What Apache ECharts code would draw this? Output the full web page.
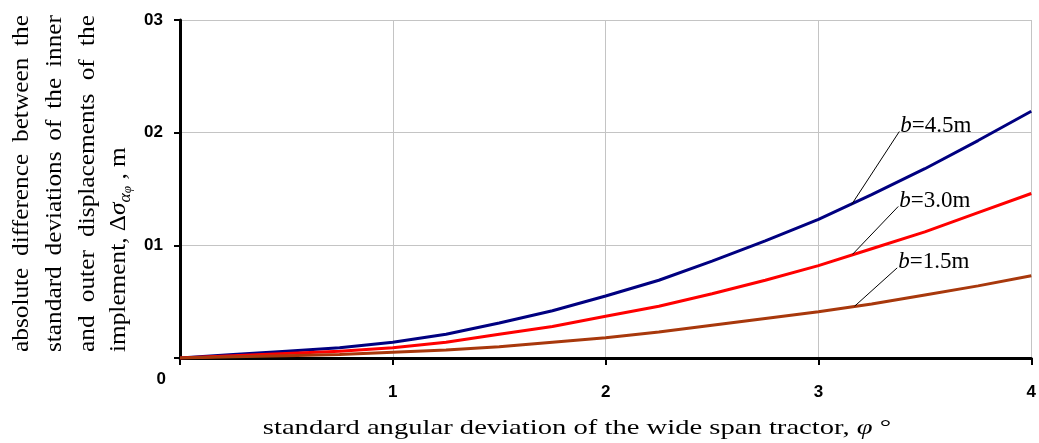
<!DOCTYPE html>
<html>
<head>
<meta charset="utf-8">
<script src="https://cdn.jsdelivr.net/npm/echarts@6/dist/echarts.min.js"></script>
<style>
  html, body { margin: 0; padding: 0; background: #fff; }
  #chart { width: 1039px; height: 443px; }
</style>
</head>
<body>
<div id="chart"></div>
<script>
// angular deviation, degrees
const xValues = [0, 0.25, 0.5, 0.75, 1, 1.25, 1.5, 1.75, 2, 2.25, 2.5, 2.75, 3, 3.25, 3.5, 3.75, 4]
// difference of std deviations, m
const b45 = [0, 0.0003, 0.0006, 0.0009, 0.0014, 0.0021, 0.0031, 0.0042, 0.0055, 0.0069, 0.0086, 0.0104, 0.0123, 0.0145, 0.0168, 0.0193, 0.0219]
const b30 = [0, 0.0002, 0.0004, 0.0006, 0.0009, 0.0014, 0.0021, 0.0028, 0.0037, 0.0046, 0.0057, 0.0069, 0.0082, 0.0097, 0.0112, 0.0129, 0.0146]
const b15 = [0, 0.0001, 0.0002, 0.0003, 0.0005, 0.0007, 0.0010, 0.0014, 0.0018, 0.0023, 0.0029, 0.0035, 0.0041, 0.0048, 0.0056, 0.0064, 0.0073]

const seriesNames = ['b=4.5m', 'b=3.0m', 'b=1.5m']
const seriesColors = ['#000080', '#ff0000', '#a8380c']
const xTickLabels = ['', '1', '2', '3', '4']
const yTickLabels = ['0', '01', '02', '03']

// leader lines for the curve labels (data coords)
const leaderStart = [[3.155, 0.0136], [3.16, 0.0092], [3.17, 0.0046]]
const leaderEnd = [[3.38, 0.0201], [3.375, 0.01345], [3.37, 0.0080]]

const serif = '"Liberation Serif", "Times New Roman", serif'
const sans = '"Liberation Sans", Arial, sans-serif'

const ctx = document.createElement('canvas').getContext('2d')
ctx.font = '23px ' + serif

// text along the y title is a bit wider than the font gives
const yTitleStretch = 1.1

// spread the words of a line over a given length
function justifyLine(line, total) {
  const words = line.split(' ')
  const w = words.reduce((s, t) => s + ctx.measureText(t).width, 0)
  const gap = Math.max(4, (total - w) / (words.length - 1))
  return { text: words.join('{g| }'), gap: gap }
}

const titleLines = [
  'absolute difference between the',
  'standard deviations of the inner',
  'and outer displacements of the'
]
const titleX = [22, 55, 88]

const graphics = titleLines.map((line, i) => {
  const j = justifyLine(line, 337 / yTitleStretch)
  return {
    type: 'text',
    x: titleX[i],
    y: 352,
    rotation: Math.PI / 2,
    scaleX: yTitleStretch,
    style: {
      text: j.text,
      font: '23px ' + serif,
      fill: '#000',
      align: 'left',
      verticalAlign: 'middle',
      textAlign: 'left',
      textVerticalAlign: 'middle',
      rich: { g: { width: j.gap, fontSize: 23, fontFamily: serif } }
    }
  }
})

graphics.push({
  type: 'text',
  x: 119,
  y: 352,
  rotation: Math.PI / 2,
  scaleX: yTitleStretch,
  style: {
    text: '{n|implement, Δ}{s|σ}{a|α}{f|φ}{n| , m}',
    fill: '#000',
    align: 'left',
    verticalAlign: 'middle',
    textAlign: 'left',
    textVerticalAlign: 'middle',
    rich: {
      n: { fontSize: 23, fontFamily: serif, lineHeight: 26 },
      s: { fontSize: 23, fontFamily: serif, fontStyle: 'italic', lineHeight: 26 },
      a: { fontSize: 16, fontFamily: serif, fontStyle: 'italic', verticalAlign: 'bottom', lineHeight: 26 },
      f: { fontSize: 12, fontFamily: serif, fontStyle: 'italic', verticalAlign: 'bottom', lineHeight: 30 }
    }
  }
})

const xTitle = 'standard angular deviation of the wide span tractor, φ °'
ctx.font = '22px ' + serif
const xTitleScale = 629 / ctx.measureText(xTitle).width

graphics.push({
  type: 'text',
  x: 577,
  y: 428,
  scaleX: xTitleScale,
  style: {
    text: '{n|standard angular deviation of the wide span tractor, }{i|φ}{n| °}',
    fill: '#000',
    align: 'center',
    verticalAlign: 'middle',
    textAlign: 'center',
    textVerticalAlign: 'middle',
    rich: {
      n: { fontSize: 22, fontFamily: serif },
      i: { fontSize: 22, fontFamily: serif, fontStyle: 'italic' }
    }
  }
})

const allData = [b45, b30, b15]

const series = allData.map((vals, i) => ({
  name: seriesNames[i],
  type: 'line',
  data: xValues.map((x, k) => [x, vals[k]]),
  smooth: false,
  showSymbol: false,
  symbol: 'none',
  lineStyle: { color: seriesColors[i], width: 3 },
  itemStyle: { color: seriesColors[i] },
  markLine: {
    silent: true,
    symbol: ['none', 'none'],
    lineStyle: { color: '#000', width: 1, type: 'solid' },
    label: { show: false },
    data: [[{ coord: leaderStart[i] }, { coord: leaderEnd[i] }]]
  },
  markPoint: {
    silent: true,
    symbol: 'circle',
    symbolSize: 0,
    label: {
      show: true,
      position: 'right',
      distance: 1,
      offset: [0, -6],
      formatter: '{i|b}{n|' + seriesNames[i].slice(1) + '}',
      rich: {
        i: { fontSize: 23, fontFamily: serif, fontStyle: 'italic', color: '#000' },
        n: { fontSize: 23, fontFamily: serif, color: '#000' }
      }
    },
    data: [{ coord: leaderEnd[i] }]
  }
}))

const chart = echarts.init(document.getElementById('chart'))
chart.setOption({
  animation: false,
  backgroundColor: '#fff',
  grid: { left: 180, right: 6, top: 20, bottom: 85 },
  xAxis: {
    type: 'value',
    min: 0,
    max: 4,
    interval: 1,
    axisLine: { show: true, lineStyle: { color: '#000', width: 3 } },
    axisTick: { show: true, length: 7, lineStyle: { color: '#000', width: 2 } },
    axisLabel: {
      margin: 26,
      color: '#000',
      fontFamily: sans,
      fontWeight: 'bold',
      fontSize: 17,
      formatter: v => xTickLabels[Math.round(v)]
    },
    splitLine: { show: true, lineStyle: { color: '#c4c4c4', width: 1 } }
  },
  yAxis: {
    type: 'value',
    min: 0,
    max: 0.03,
    interval: 0.01,
    axisLine: { show: true, lineStyle: { color: '#000', width: 3 } },
    axisTick: { show: true, length: 6, lineStyle: { color: '#000', width: 2 } },
    axisLabel: {
      margin: 14,
      formatter: v => {
        const k = Math.round(v / 0.01)
        return k === 0 ? '{z|' + yTickLabels[0] + '}' : '{n|' + yTickLabels[k] + '}'
      },
      rich: {
        z: { fontFamily: sans, fontWeight: 'bold', fontSize: 17, color: '#000', padding: [42, 0, 0, 0] },
        n: { fontFamily: sans, fontWeight: 'bold', fontSize: 17, color: '#000', padding: [0, 3, 0, 0] }
      }
    },
    splitLine: { show: true, lineStyle: { color: '#c4c4c4', width: 1 } }
  },
  graphic: graphics,
  series: series
})
</script>
</body>
</html>
